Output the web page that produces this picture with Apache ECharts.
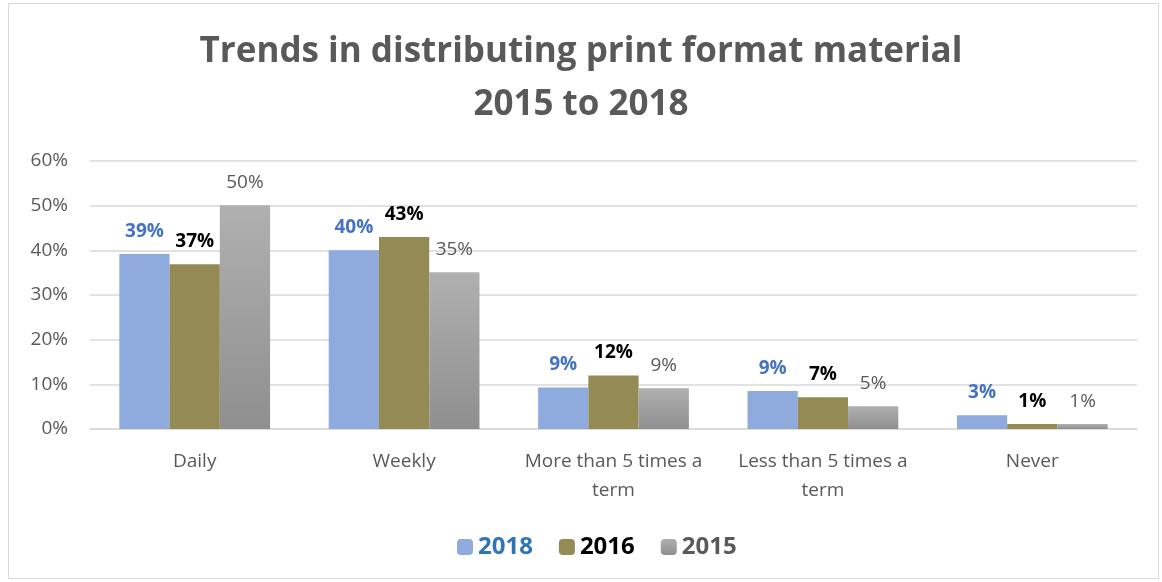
<!DOCTYPE html>
<html><head><meta charset="utf-8">
<script src="https://cdn.jsdelivr.net/npm/echarts@6/dist/echarts.min.js"></script>
<style>html,body{margin:0;padding:0;background:#fff}#c{width:1162px;height:582px}</style>
</head><body><div id="c"></div>
<script>
const categories = ['Daily', 'Weekly', 'More than 5 times a\nterm', 'Less than 5 times a\nterm', 'Never'];
const s2018 = [39.2, 40, 9.3, 8.5, 3.1];
const s2016 = [36.9, 43, 12, 7.1, 1.1];
const s2015 = [50.1, 35.1, 9.1, 5.1, 1.1];
const yTicks = [0, 10, 20, 30, 40, 50, 60];

const FONT = '"Open Sans", "Noto Sans", sans-serif';
const chart = echarts.init(document.getElementById('c'));
const fmt = p => Math.round(p.value) + '%';
chart.setOption({
  animation: false,
  graphic: [{type:'rect', shape:{x:8.5,y:3.5,width:1150,height:575}, style:{fill:'none', stroke:'#d9d9d9', lineWidth:1}}],
  title: {
    text: 'Trends in distributing print format material\n2015 to 2018',
    left: 'center', top: 21, padding: [5, 5, 5, 19],
    textStyle: {fontFamily: FONT, fontSize: 35, fontWeight: 'bold', color: '#595959', lineHeight: 53}
  },
  legend: {
    bottom: 18, left: 452, itemWidth: 16, itemHeight: 16, itemGap: 26,
    textStyle: {fontFamily: FONT, fontSize: 24, fontWeight: 'bold'},
    data: [
      {name: '2018', textStyle: {color: '#2E75B6'}},
      {name: '2016', textStyle: {color: '#000000'}},
      {name: '2015', textStyle: {color: '#595959'}}
    ]
  },
  grid: {left: 90, right: 25, top: 161, bottom: 153},
  xAxis: {
    type: 'category', data: categories,
    axisLine: {lineStyle: {color: '#d9d9d9', width: 1.5}},
    axisTick: {show: false},
    axisLabel: {fontFamily: FONT, fontSize: 19, color: '#595959', margin: 18, lineHeight: 29, interval: 0}
  },
  yAxis: {
    type: 'value', min: 0, max: 60, interval: 10,
    axisLine: {show: false}, axisTick: {show: false},
    splitLine: {lineStyle: {color: '#d9d9d9', width: 1.5}},
    axisLabel: {fontFamily: FONT, fontSize: 19, color: '#595959', margin: 22,
      formatter: v => yTicks.includes(v) ? v + '%' : ''}
  },
  series: [
    {name: '2018', type: 'bar', data: s2018, barGap: '0%', barCategoryGap: '28%',
     itemStyle: {color: '#8FAADC'},
     label: {show: true, position: 'top', distance: 13, formatter: fmt,
       fontFamily: FONT, fontSize: 19, fontWeight: 'bold', color: '#4472C4'}},
    {name: '2016', type: 'bar', data: s2016, barGap: '0%', barCategoryGap: '28%',
     itemStyle: {color: '#948A54'},
     label: {show: true, position: 'top', distance: 13, formatter: fmt,
       fontFamily: FONT, fontSize: 19, fontWeight: 'bold', color: '#000000'}},
    {name: '2015', type: 'bar', data: s2015, barGap: '0%', barCategoryGap: '28%',
     itemStyle: {color: new echarts.graphic.LinearGradient(0, 0, 0, 1, [
       {offset: 0, color: '#B0B0B0'}, {offset: 1, color: '#8F8F8F'}])},
     label: {show: true, position: 'top', distance: 13, formatter: fmt,
       fontFamily: FONT, fontSize: 19, color: '#595959'}}
  ]
});
</script></body></html>
